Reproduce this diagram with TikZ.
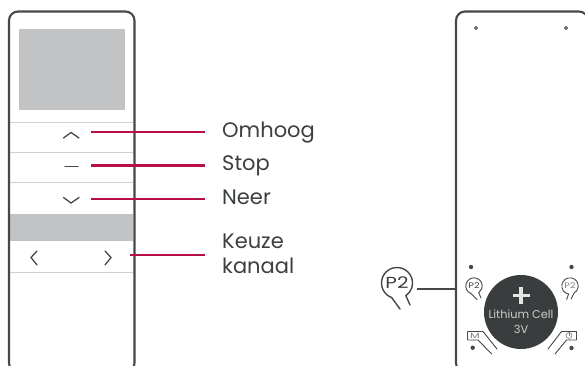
\documentclass[tikz,border=0pt]{standalone}
\usepackage{fontspec}
\usepackage{graphicx}
\setmainfont{Poppins}
\definecolor{shell}{HTML}{44484A}
\definecolor{panel}{HTML}{C2C3C5}
\definecolor{rule}{HTML}{CFD0D0}
\definecolor{crimson}{HTML}{B80F4C}
\definecolor{batt}{HTML}{3A3D3E}
\definecolor{txt}{HTML}{3C3F41}
\tikzset{
  case/.style={draw=shell,line width=2.1pt,rounded corners=9pt},
  divider/.style={draw=rule,line width=1pt},
  glyph/.style={draw=shell,line width=1.3pt,line cap=round,line join=miter},
  leader/.style={draw=crimson,line width=2.2pt},
  callout/.style={draw=shell,line width=1.5pt},
  lab/.style={anchor=base west,inner sep=0pt,font=\fontsize{21}{24}\selectfont,text=txt},
  anchorbub/.style={circle,inner sep=0pt},
  bigline/.style={draw=shell,line width=1.4pt,line cap=round},
  thin/.style={draw=shell,line width=.9pt,line cap=round,line join=round},
  celltext/.style={anchor=base,inner sep=0pt,text=white!80!black,font=\fontsize{11.3}{13}\selectfont},
}
\begin{document}
\begin{tikzpicture}[x=1pt,y=-1pt]
\useasboundingbox (0,0) rectangle (585,365);
\clip (0,0) rectangle (585,365);
% front
\fill[panel] (19,29) rectangle (125,110);
\fill[panel] (10,214) rectangle (133,241);
\foreach \y in {122,152,182,272} \draw[divider] (10,\y) -- (133,\y);
\draw[case] (9,372) rectangle (134.5,11.5);
\draw[glyph] (63.5,138) -- (71,132.5) -- (79,138);
\draw[glyph] (65,166.7) -- (78,166.7);
\draw[glyph] (63.5,197.5) -- (71,203) -- (79,197.5);
\draw[glyph] (37,251) -- (31,257.5) -- (37,265);
\draw[glyph] (105,251) -- (111,257.5) -- (105,265);
% labels
\node[lab] (omhoog) at (222,137) {Omhoog};
\node[lab] (stop) at (222,170) {Stop};
\node[lab] (neer) at (222,204) {Neer};
\node[lab] (keuze) at (222,248) {Keuze};
\node[lab] (kanaal) at (222,273) {kanaal};
\coordinate (a1) at (91,132); \coordinate (b1) at (205,132);
\coordinate (a2) at (91,165.5); \coordinate (b2) at (205,165.5);
\coordinate (a3) at (91,199); \coordinate (b3) at (205,199);
\coordinate (a4) at (130,255); \coordinate (b4) at (205,255);
\draw[leader] (a1) -- (b1);
\draw[leader] (a2) -- (b2);
\draw[leader] (a3) -- (b3);
\draw[leader] (a4) -- (b4);
% back
\draw[case] (456,372) rectangle (588,11.5);
\foreach \x in {476,566} \draw[shell,line width=.9pt,fill=white] (\x,28) circle (1.5);
\fill[shell] (471,267) circle (2.2);
\fill[shell] (571.5,267) circle (2.2);
\fill[shell] (472.7,347.7) circle (2.2);
\fill[shell] (571.5,348) circle (2.2);
% battery
\node[circle,fill=batt,minimum size=74pt,inner sep=0pt] (cell) at (521,312) {};
\fill[white!90!black] (512.5,293.7) rectangle (529.5,296.9);
\fill[white!90!black] (519.4,287) rectangle (522.6,303.6);
\node[celltext] (cellt) at (521,318) {Lithium Cell};
\node[celltext] (cellv) at (521,333) {3V};
% big P2
\node[anchorbub,minimum size=31pt] (bigp) at (397,283) {\scalebox{1.25}[1]{\fontsize{16}{17}\selectfont\textcolor{txt}{P2}}};
\draw[bigline] (bigp.center) ++(110:15.5) arc[start angle=110,end angle=415,radius=15.5];
\draw[bigline] (391.7,297.6) -- (400,309);
\draw[bigline] (405.9,295.7) -- (410,305);
% small P2
\node[anchorbub,minimum size=16.5pt] (smallpl) at (474,286) {\scalebox{1.2}[1]{\fontsize{8}{9}\selectfont\textcolor{txt}{P2}}};
\draw[thin] (smallpl.center) ++(110:8.2) arc[start angle=110,end angle=415,radius=8.2];
\draw[thin] (471.2,293.7) -- (477,299.5);
\draw[thin] (478.7,292.7) -- (481,298);
\node[anchorbub,minimum size=16.5pt] (smallpr) at (570,286) {\scalebox{1.2}[1]{\fontsize{8}{9}\selectfont\textcolor{gray}{P2}}};
\draw[thin] (smallpr.center) ++(100:8.2) arc[start angle=100,end angle=420,radius=8.2];
\draw[thin] (568.6,294) -- (566.7,299.5);
\draw[thin] (574.1,293.1) -- (571,299);
\coordinate (cs) at (417,289); \coordinate (ce) at (456,289);
\draw[callout] (cs) -- (ce);
% M key
\node[inner sep=0pt,text=gray,font=\fontsize{7.5}{8}\selectfont] (mkey) at (475,335.8) {\scalebox{1.5}[1]{M}};
\draw[thin] (497,349) -- (483,331.5) -- (467.5,331.5) -- (467.5,340) -- (478,340) -- (491.7,354);
% power key
\coordinate (pwr) at (569,335.5);
\draw[gray,line width=.6pt] (pwr) circle (3);
\draw[gray,line width=.6pt] (569,332) -- (pwr);
\draw[thin] (548,349) -- (561.5,331.5) -- (576.5,331.5) -- (576.5,340) -- (566.5,340) -- (555,354);
\end{tikzpicture}
\end{document}
